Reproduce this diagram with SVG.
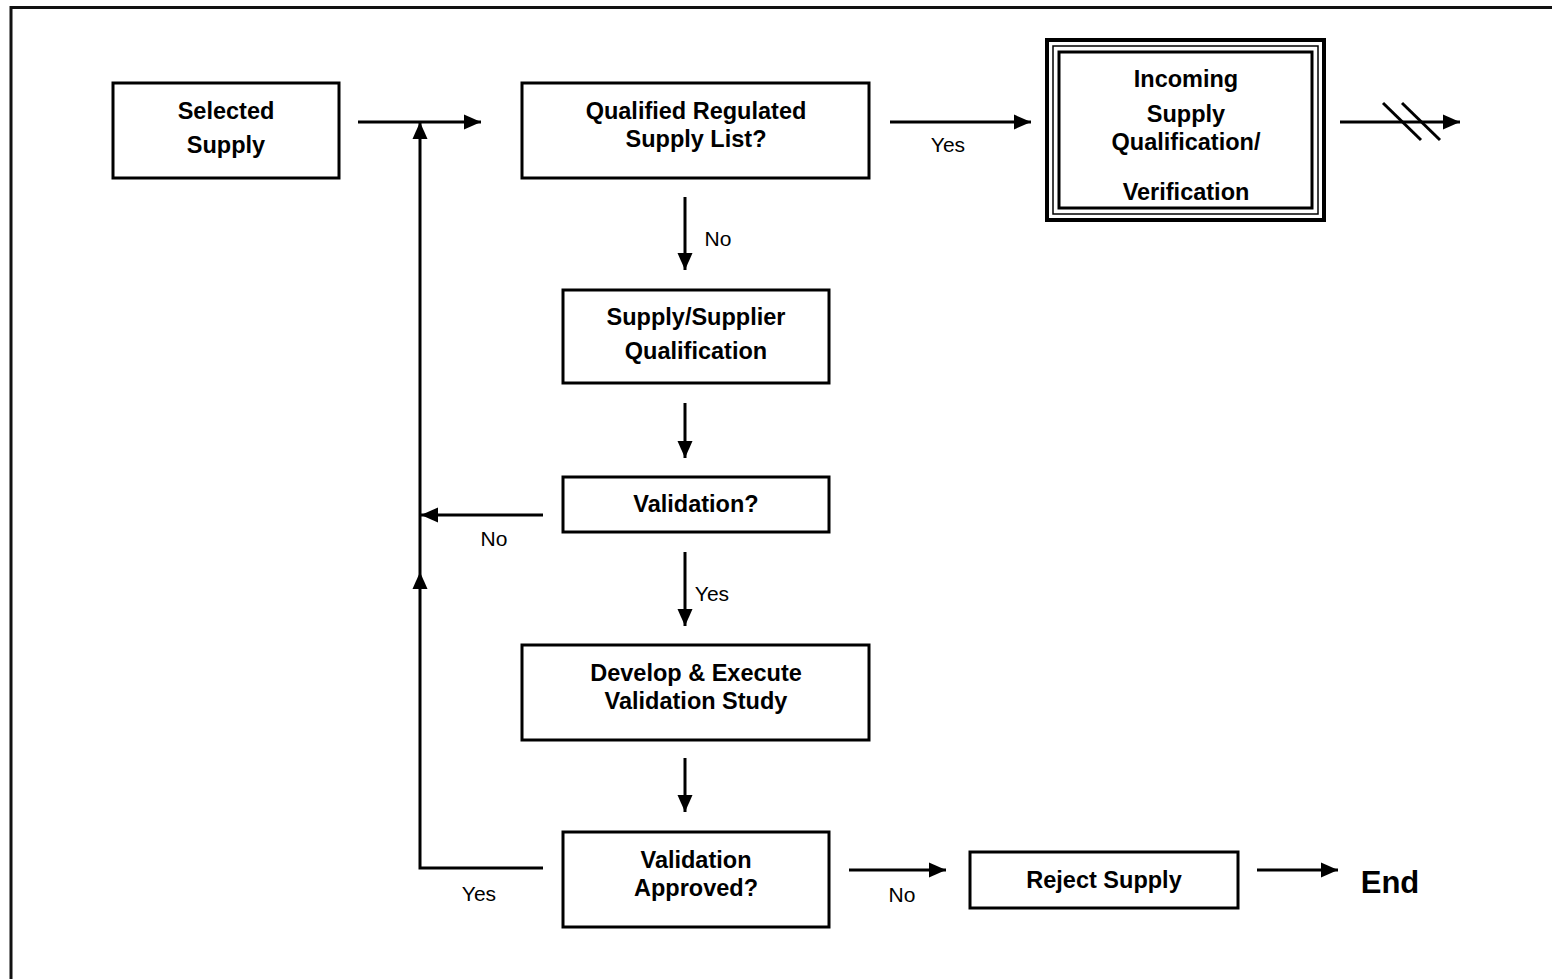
<svg xmlns="http://www.w3.org/2000/svg" width="1552" height="979" viewBox="0 0 1552 979">
<style>
.box{fill:#fff;stroke:#000;stroke-width:3}
.t{font-family:"Liberation Sans",Arial,sans-serif;font-weight:bold;font-size:23.5px;text-anchor:middle;fill:#000}
.l{font-family:"Liberation Sans",Arial,sans-serif;font-size:21px;text-anchor:middle;fill:#000}
.c{fill:none;stroke:#000;stroke-width:3}
</style>
<defs>
<marker id="ah" markerUnits="userSpaceOnUse" markerWidth="20" markerHeight="18" refX="17" refY="8" orient="auto">
<path d="M0,0.5 L17,8 L0,15.5 Z" fill="#000"/>
</marker>
</defs>
<rect width="1552" height="979" fill="#fff"/>
<path d="M11,979 V7.5 H1552" fill="none" stroke="#111" stroke-width="3"/>
<g id="n-selected">
<rect class="box" x="113" y="83" width="226" height="95"/>
<text class="t" x="226" y="119">Selected</text>
<text class="t" x="226" y="153">Supply</text>
</g>
<g id="n-qualified">
<rect class="box" x="522" y="83" width="347" height="95"/>
<text class="t" x="696" y="119">Qualified Regulated</text>
<text class="t" x="696" y="147">Supply List?</text>
</g>
<g id="n-incoming">
<rect x="1047" y="40" width="277" height="180" fill="#fff" stroke="#000" stroke-width="4"/>
<rect x="1053" y="46" width="265" height="168" fill="none" stroke="#000" stroke-width="1.5"/>
<rect x="1059" y="52" width="253" height="156" fill="none" stroke="#000" stroke-width="3"/>
<text class="t" x="1186" y="87">Incoming</text>
<text class="t" x="1186" y="122">Supply</text>
<text class="t" x="1186" y="150">Qualification/</text>
<text class="t" x="1186" y="200">Verification</text>
</g>
<g id="n-supplier">
<rect class="box" x="563" y="290" width="266" height="93"/>
<text class="t" x="696" y="325">Supply/Supplier</text>
<text class="t" x="696" y="359">Qualification</text>
</g>
<g id="n-validation">
<rect class="box" x="563" y="477" width="266" height="55"/>
<text class="t" x="696" y="512">Validation?</text>
</g>
<g id="n-develop">
<rect class="box" x="522" y="645" width="347" height="95"/>
<text class="t" x="696" y="681">Develop &amp; Execute</text>
<text class="t" x="696" y="709">Validation Study</text>
</g>
<g id="n-approved">
<rect class="box" x="563" y="832" width="266" height="95"/>
<text class="t" x="696" y="868">Validation</text>
<text class="t" x="696" y="896">Approved?</text>
</g>
<g id="n-reject">
<rect class="box" x="970" y="852" width="268" height="56"/>
<text class="t" x="1104" y="888">Reject Supply</text>
</g>
<g id="n-end">
<text x="1390" y="893" font-family="Liberation Sans,Arial,sans-serif" font-weight="bold" font-size="31" text-anchor="middle">End</text>
</g>
<g id="connectors">
<line class="c" x1="358" y1="122" x2="481" y2="122" marker-end="url(#ah)"/>
<line class="c" x1="890" y1="122" x2="1031" y2="122" marker-end="url(#ah)"/>
<line class="c" x1="1340" y1="122" x2="1460" y2="122" marker-end="url(#ah)"/>
<line x1="1383" y1="103" x2="1421" y2="140" stroke="#000" stroke-width="3"/>
<line x1="1402" y1="103" x2="1440" y2="140" stroke="#000" stroke-width="3"/>
<line class="c" x1="685" y1="197" x2="685" y2="270" marker-end="url(#ah)"/>
<line class="c" x1="685" y1="403" x2="685" y2="458" marker-end="url(#ah)"/>
<line class="c" x1="543" y1="515" x2="421" y2="515" marker-end="url(#ah)"/>
<line class="c" x1="685" y1="552" x2="685" y2="626" marker-end="url(#ah)"/>
<line class="c" x1="685" y1="758" x2="685" y2="812" marker-end="url(#ah)"/>
<path class="c" d="M543,868 H420 V572" marker-end="url(#ah)"/>
<line class="c" x1="420" y1="572" x2="420" y2="122" marker-end="url(#ah)"/>
<line class="c" x1="849" y1="870" x2="946" y2="870" marker-end="url(#ah)"/>
<line class="c" x1="1257" y1="870" x2="1338" y2="870" marker-end="url(#ah)"/>
<text class="l" x="948" y="152">Yes</text>
<text class="l" x="718" y="246">No</text>
<text class="l" x="494" y="546">No</text>
<text class="l" x="712" y="601">Yes</text>
<text class="l" x="479" y="901">Yes</text>
<text class="l" x="902" y="902">No</text>
</g>
</svg>
